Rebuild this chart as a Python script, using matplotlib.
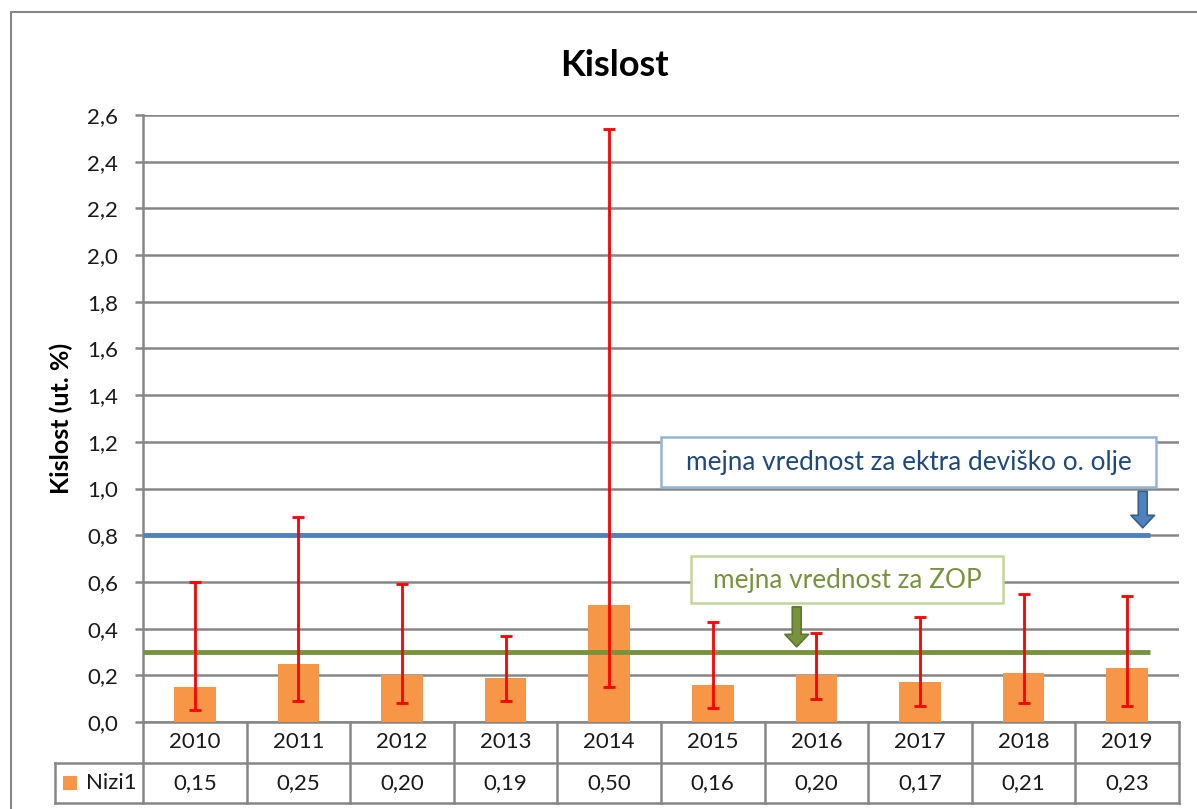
import matplotlib
matplotlib.use("Agg")
from matplotlib import pyplot as plt
from matplotlib.patches import Rectangle

# data
years = ["2010", "2011", "2012", "2013", "2014", "2015", "2016", "2017", "2018", "2019"]
mean_values = [0.15, 0.25, 0.20, 0.19, 0.50, 0.16, 0.20, 0.17, 0.21, 0.23]
min_values = [0.05, 0.09, 0.08, 0.09, 0.15, 0.06, 0.10, 0.07, 0.08, 0.07]
max_values = [0.60, 0.88, 0.59, 0.37, 2.54, 0.43, 0.38, 0.45, 0.55, 0.54]
series_name = "Nizi1"
limit_extra = 0.8
limit_zop = 0.3
limit_extra_label = "mejna vrednost za ektra deviško o. olje"
limit_zop_label = "mejna vrednost za ZOP"
yticks = [0.0, 0.2, 0.4, 0.6, 0.8, 1.0, 1.2, 1.4, 1.6, 1.8, 2.0, 2.2, 2.4, 2.6]

plt.rcParams['font.family'] = ['Lato', 'DejaVu Sans']

W, H = 1197, 809
fig = plt.figure(figsize=(W / 100, H / 100), dpi=100)
ax = fig.add_axes([143 / W, 1 - 722 / H, 1036 / W, 607 / H])

grid_c = '#868686'
bar_c = '#F79646'
txt_c = '#1a1a1a'
x = list(range(len(years)))

ax.set_xlim(-0.5, len(years) - 0.5)
ax.set_ylim(0, 2.6)
ax.set_axisbelow(True)
for t in yticks[1:]:
    ax.axhline(t, color=grid_c, lw=1.8, zorder=0)

ax.bar(x, mean_values, width=0.4, color=bar_c, zorder=2)

err_lo = [m - lo for m, lo in zip(mean_values, min_values)]
err_hi = [hi - m for m, hi in zip(mean_values, max_values)]
ax.errorbar(x, mean_values, yerr=[err_lo, err_hi], fmt='none', ecolor='#FF0000',
            elinewidth=2, capsize=4.5, capthick=2, zorder=4)

# limit lines
x_end = 9.22
ax.plot([-0.5, x_end], [limit_extra, limit_extra], color='#4F81BD', lw=3.5, zorder=3,
        solid_capstyle='butt')
ax.plot([-0.5, x_end], [limit_zop, limit_zop], color='#77933C', lw=3.5, zorder=3,
        solid_capstyle='butt')

# callout boxes
ax.add_patch(Rectangle((4.5, 1.006), 4.78, 0.214, facecolor='white', edgecolor='#95B3D7',
                       lw=1.8, zorder=5))
ax.text(6.89, 1.113, limit_extra_label, ha='center', va='center', fontsize=18.8,
        color='#1F497D', zorder=6)
ax.add_patch(Rectangle((4.79, 0.511), 3.01, 0.2, facecolor='white', edgecolor='#C3D69B',
                       lw=1.8, zorder=5))
ax.text(6.295, 0.608, limit_zop_label, ha='center', va='center', fontsize=18.8,
        color='#77933C', zorder=6)

arrow_style = 'simple,head_width=0.85,head_length=0.45,tail_width=0.32'
ax.annotate('', xy=(9.15, limit_extra + 0.02), xytext=(9.15, 1.0),
            arrowprops=dict(arrowstyle=arrow_style, mutation_scale=20,
                            fc='#4F81BD', ec='#385D8A', lw=1.2), zorder=6)
ax.annotate('', xy=(5.81, limit_zop + 0.01), xytext=(5.81, 0.505),
            arrowprops=dict(arrowstyle=arrow_style, mutation_scale=20,
                            fc='#77933C', ec='#5F7530', lw=1.2), zorder=6)

# axes styling
for s in ['top', 'right', 'bottom']:
    ax.spines[s].set_visible(False)
ax.spines['left'].set_color(grid_c)
ax.spines['left'].set_linewidth(1.8)
ax.axhline(0, color=grid_c, lw=1.8, zorder=1)
ax.set_yticks(yticks)
ax.set_yticklabels([f"{t:.1f}".replace('.', ',') for t in yticks])
ax.tick_params(axis='y', length=6, width=1.8, color=grid_c, pad=12, labelsize=16,
               labelcolor=txt_c)
ax.set_xticks([])
ax.set_ylabel("Kislost (ut. %)", fontsize=18, fontweight='bold')
ax.yaxis.set_label_coords(-0.0676, 0.5)

fig.text(614 / W, 1 - 65 / H, "Kislost", ha='center', va='center', fontsize=26,
         fontweight='bold')

# data table below the plot
trans = ax.get_xaxis_transform()
px = 607.0
r0, r1, r2 = 0.0, -41 / px, -81 / px
left_x = -0.5 - (143 - 55) / 103.6
tbl_kw = dict(color=grid_c, lw=1.8, clip_on=False, transform=trans, zorder=1)
ax.plot([-0.5, 9.5], [r0, r0], **tbl_kw)
ax.plot([left_x, 9.5], [r1, r1], **tbl_kw)
ax.plot([left_x, 9.5], [r2, r2], **tbl_kw)
ax.plot([left_x, left_x], [r1, r2], **tbl_kw)
for b in [i - 0.5 for i in range(len(years) + 1)]:
    ax.plot([b, b], [r0, r2], **tbl_kw)
for xi, yr, v in zip(x, years, mean_values):
    ax.text(xi, (r0 + r1) / 2, yr, ha='center', va='center', fontsize=16,
            transform=trans, color=txt_c)
    ax.text(xi, (r1 + r2) / 2, f"{v:.2f}".replace('.', ','), ha='center', va='center',
            fontsize=16, transform=trans, color=txt_c)
ax.add_patch(Rectangle((-0.5 - (143 - 63) / 103.6, (r1 + r2) / 2 - 7 / px), 14 / 103.6,
                       14 / px, facecolor=bar_c, transform=trans, clip_on=False))
ax.text(-0.5 - (143 - 86) / 103.6, (r1 + r2) / 2, series_name, ha='left', va='center',
        fontsize=16, transform=trans, color=txt_c)

# outer chart frame
fig.add_artist(Rectangle((11 / W, -0.1), 2, 1 - 12 / H + 0.1, transform=fig.transFigure,
                         fill=False, ec=grid_c, lw=1.5))

fig.savefig("out.png", dpi=100)
